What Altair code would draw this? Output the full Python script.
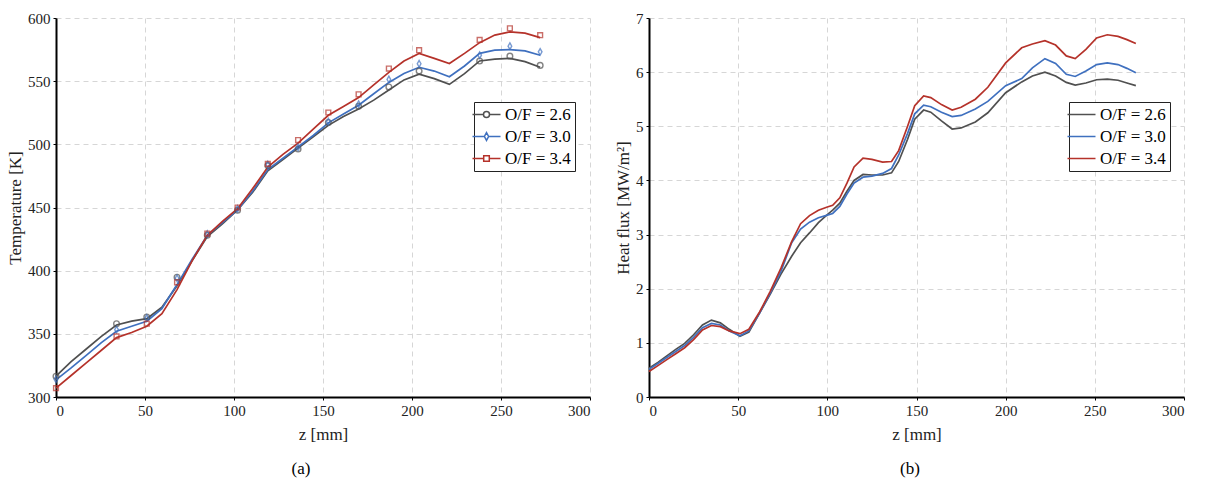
import altair as alt
import pandas as pd

# ---- shared labels / colours -------------------------------------------
series = ["O/F = 2.6", "O/F = 3.0", "O/F = 3.4"]
colors = ["#505050", "#3f70bf", "#b5322a"]

# ---- (a) wall temperature: smoothed profiles ---------------------------
z_line = [0, 8.5, 17, 25.5, 34, 42.5, 51, 59.5, 68, 76.5, 85, 93.5, 102,
          110.5, 119, 127.5, 136, 144.5, 153, 161.5, 170, 178.5, 187,
          195.5, 204, 212.5, 221, 229.5, 238, 246.5, 255, 263.5, 272]
t_line_26 = [316.5, 328, 338, 348, 357, 360, 362, 371, 388, 408, 427, 437,
             448, 462, 479, 488, 497, 506, 515, 522, 528, 535, 543, 551,
             555.5, 552, 547.5, 556, 566, 567.5, 568, 565.5, 561]
t_line_30 = [313.5, 323, 333, 343, 352, 356, 360, 370, 389, 409, 428, 438,
             448, 463, 480, 489, 498, 507, 517, 524, 531, 540, 549, 556,
             561, 558, 553.5, 562, 572, 574.5, 575, 574, 570.5]
t_line_34 = [307, 317, 327, 337, 347, 351, 356, 366, 385, 408, 428, 439,
             449, 465, 482, 492, 501, 512, 523, 530, 537, 547, 557, 566,
             572, 568, 564, 572, 580.5, 586.5, 589, 588, 584.5]

# ---- (a) wall temperature: measured points -----------------------------
z_mark = [0, 34, 51, 68, 85, 102, 119, 136, 153, 170, 187, 204, 238, 255, 272]
t_mark_26 = [316.5, 358, 363.3, 394.8, 428, 447.8, 483.2, 496.3, 517.3,
             530.2, 545.4, 558, 565.9, 569.8, 562.5]
t_mark_30 = [313.9, 353.3, 362.5, 394, 429, 449, 484, 497.6, 518, 531.8,
             551.4, 563.8, 570.6, 577.7, 573.2]
t_mark_34 = [307, 348, 358, 390.8, 429.4, 450, 484.5, 503.4, 525.2, 539.6,
             560, 574.5, 582.7, 591.9, 586.4]

# ---- (b) heat flux profiles ---------------------------------------------
z_q = [0, 5, 10, 15, 20, 25, 30, 35, 40, 45, 51, 56, 62, 68, 74, 80, 85, 90,
       95, 100, 103, 107, 111, 115, 120, 125, 131, 136, 140, 145, 149, 154,
       158, 164, 170, 175, 183, 190, 200, 209, 215, 222, 228, 234, 239, 245,
       251, 257, 263, 268, 273]
q_26 = [0.53, 0.64, 0.76, 0.88, 0.99, 1.15, 1.33, 1.42, 1.37, 1.25, 1.12,
        1.2, 1.55, 1.9, 2.27, 2.6, 2.85, 3.03, 3.22, 3.37, 3.45, 3.58, 3.8,
        4.0, 4.11, 4.1, 4.1, 4.14, 4.35, 4.76, 5.13, 5.3, 5.26, 5.1, 4.95,
        4.97, 5.08, 5.25, 5.62, 5.82, 5.93, 6.0, 5.93, 5.81, 5.76, 5.8, 5.86,
        5.87, 5.85, 5.8, 5.75]
q_30 = [0.51, 0.62, 0.73, 0.84, 0.95, 1.1, 1.28, 1.36, 1.33, 1.22, 1.13,
        1.22, 1.55, 1.92, 2.32, 2.85, 3.1, 3.23, 3.31, 3.36, 3.39, 3.52, 3.75,
        3.95, 4.06, 4.08, 4.13, 4.22, 4.47, 4.87, 5.23, 5.39, 5.36, 5.26, 5.18,
        5.2, 5.32, 5.46, 5.75, 5.88, 6.08, 6.25, 6.16, 5.96, 5.92, 6.02, 6.14,
        6.17, 6.14, 6.07, 5.99]
q_34 = [0.47, 0.58, 0.69, 0.8, 0.91, 1.06, 1.24, 1.32, 1.3, 1.22, 1.17,
        1.25, 1.57, 1.95, 2.38, 2.87, 3.2, 3.35, 3.45, 3.51, 3.54, 3.68, 3.95,
        4.25, 4.41, 4.39, 4.34, 4.35, 4.55, 5.0, 5.38, 5.56, 5.53, 5.4, 5.3,
        5.35, 5.5, 5.72, 6.17, 6.45, 6.52, 6.58, 6.5, 6.3, 6.25, 6.42, 6.63,
        6.69, 6.66, 6.6, 6.53]


def long_frame(x, ys, xname, yname):
    rows = []
    for name, vals in zip(series, ys):
        for xv, yv in zip(x, vals):
            rows.append({xname: xv, yname: yv, "case": name})
    return pd.DataFrame(rows)


temp_lines = long_frame(z_line, [t_line_26, t_line_30, t_line_34], "z", "T")
temp_marks = long_frame(z_mark, [t_mark_26, t_mark_30, t_mark_34], "z", "T")
flux_lines = long_frame(z_q, [q_26, q_30, q_34], "z", "q")

FONT = "Liberation Serif"
W, H = 534, 379

# marker outlines (open circle, slim diamond, square)
marker_paths = [
    "M-1,0A1,1,0,1,0,1,0A1,1,0,1,0,-1,0Z",
    "M0,-1.15L0.65,0L0,1.15L-0.65,0Z",
    "M-0.85,-0.85H0.85V0.85H-0.85Z",
]
# legend glyphs: a short line with the marker in its middle
legend_paths = [
    "M-2,0H-0.43M0.43,0H2M-0.43,0A0.43,0.43,0,1,0,0.43,0A0.43,0.43,0,1,0,-0.43,0",
    "M-2,0H-0.3M0.3,0H2M0,-0.55L0.3,0L0,0.55L-0.3,0Z",
    "M-2,0H-0.4M0.4,0H2M-0.4,-0.4H0.4V0.4H-0.4Z",
]
legend_shape_expr = (
    f"datum.value === '{series[0]}' ? '{legend_paths[0]}' : "
    f"datum.value === '{series[1]}' ? '{legend_paths[1]}' : '{legend_paths[2]}'"
)

color_scale = alt.Scale(domain=series, range=colors)

x_axis = alt.Axis(values=[0, 50, 100, 150, 200, 250, 300], title="z [mm]")


def legend_box(shape_expr, lx):
    return alt.Legend(
        title=None, orient="none", legendX=lx, legendY=84,
        strokeColor="#222", fillColor="white", padding=4,
        labelFont=FONT, labelFontSize=17, labelColor="black",
        labelOffset=10, symbolSize=196, symbolStrokeWidth=1.5,
        symbolFillColor="transparent", rowPadding=4,
        symbolType={"expr": shape_expr},
    )


# ---------------- panel (a) ----------------
xa = alt.X("z:Q", scale=alt.Scale(domain=[0, 300], nice=False), axis=x_axis)
ya = alt.Y("T:Q", scale=alt.Scale(domain=[300, 600], nice=False, zero=False),
           axis=alt.Axis(values=[300, 350, 400, 450, 500, 550, 600],
                         title="Temperature [K]"))

lines_a = alt.Chart(temp_lines).mark_line(strokeWidth=1.7).encode(
    x=xa, y=ya,
    color=alt.Color("case:N", scale=color_scale,
                    legend=legend_box(legend_shape_expr, 418)),
    detail="case:N",
)

# one point layer per case, each with its own open marker
marker_layers = [
    alt.Chart(temp_marks).transform_filter(alt.datum.case == name)
    .mark_point(filled=False, size=32, strokeWidth=1.4, shape=path)
    .encode(x=xa, y=ya,
            color=alt.Color("case:N", scale=color_scale, legend=None))
    for name, path in zip(series, marker_paths)
]

cap_a = alt.Chart(pd.DataFrame({"cap": ["(a)"]})).mark_text(
    font=FONT, fontSize=17, color="black"
).encode(text="cap:N", x=alt.value(245), y=alt.value(451))

panel_a = alt.layer(lines_a, *marker_layers, cap_a).properties(width=W, height=H)

# ---------------- panel (b) ----------------
xb = alt.X("z:Q", scale=alt.Scale(domain=[0, 300], nice=False), axis=x_axis)
yb = alt.Y("q:Q", scale=alt.Scale(domain=[0, 7], nice=False),
           axis=alt.Axis(values=[0, 1, 2, 3, 4, 5, 6, 7],
                         title="Heat flux [MW/m²]"))

lines_b = alt.Chart(flux_lines).mark_line(strokeWidth=1.7).encode(
    x=xb, y=yb,
    color=alt.Color("case:N", scale=color_scale,
                    legend=legend_box("'M-2,0H2'", 420)),
)
cap_b = alt.Chart(pd.DataFrame({"cap": ["(b)"]})).mark_text(
    font=FONT, fontSize=17, color="black"
).encode(text="cap:N", x=alt.value(261), y=alt.value(451))

panel_b = alt.layer(lines_b, cap_b).properties(width=W + 1, height=H)

chart = alt.hconcat(panel_a, panel_b, spacing=59, bounds="flush").resolve_scale(
    color="independent"
).resolve_legend(color="independent").properties(
    padding={"left": 6, "top": 11, "right": 5, "bottom": 5}
).configure_view(stroke=None).configure_axis(
    labelFont=FONT, labelFontSize=15, labelColor="#222",
    titleFont=FONT, titleFontSize=17, titleFontWeight="normal", titleColor="#222",
    domainColor="black", domainWidth=2, tickColor="black", tickSize=3,
    gridColor="#d6d6d6", gridDash=[5, 4], gridWidth=1, labelPadding=3,
).configure_axisX(titlePadding=8).configure_axisY(titlePadding=3)

chart.save("out.html", embed_options={"renderer": "svg", "actions": False})
